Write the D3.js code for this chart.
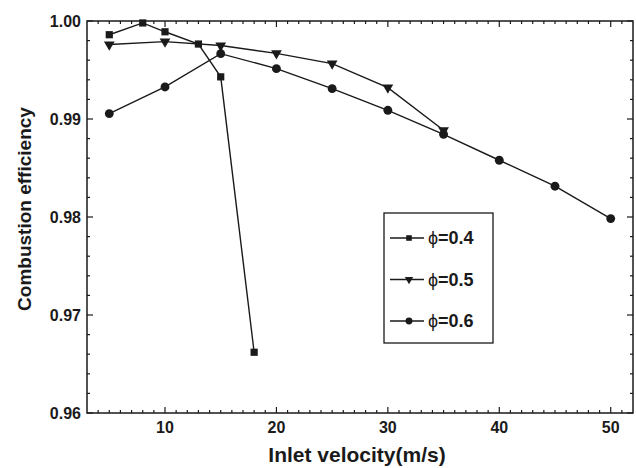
<!DOCTYPE html>
<html>
<head>
<meta charset="utf-8">
<script src="https://cdn.jsdelivr.net/npm/d3@7"></script>
<style>
    body { margin: 0; background: #fff; }
    svg { display: block; }
</style>
</head>
<body>
<div id="graph"></div>
<script>
document.addEventListener('DOMContentLoaded', init);

// data
let velocity04 = [5, 8, 10, 13, 15, 18];
let eff04 = [0.9986, 0.9998, 0.9989, 0.99765, 0.9943, 0.9662];

let velocity05 = [5, 10, 15, 20, 25, 30, 35];
let eff05 = [0.9976, 0.9979, 0.9975, 0.9967, 0.99565, 0.9932, 0.98885];

let velocity06 = [5, 10, 15, 20, 25, 30, 35, 40, 45, 50];
let eff06 = [0.99055, 0.99327, 0.99667, 0.99514, 0.9931, 0.99089, 0.98844, 0.98579, 0.98314, 0.97984];

let seriesNames = ["0.4", "0.5", "0.6"];
let xTicks = [10, 20, 30, 40, 50];
let yTicks = [0.96, 0.97, 0.98, 0.99, 1.00];

let svgWidth = 636;
let svgHeight = 468;
let plotLeft = 87, plotRight = 633, plotTop = 21, plotBottom = 413;
let lineColor = "#1a1a1a";
let font = "Arial, 'Liberation Sans', sans-serif";

let xScale = d3.scaleLinear().domain([3, 52]).range([plotLeft, plotRight]);
let yScale = d3.scaleLinear().domain([0.96, 1.00]).range([plotBottom, plotTop]);

function init() {
    let svg = d3.select("#graph")
        .append("svg")
        .attr("width", svgWidth)
        .attr("height", svgHeight);

    // minor ticks
    let xMinor = d3.range(4, 52, 1).filter(d => d % 10 != 0);
    let yMinor = d3.range(0, 21).map(i => 0.96 + i * 0.002).filter((d, i) => i % 5 != 0);

    let ticks = svg.append("g").attr("stroke", lineColor).attr("stroke-width", 1.2);

    // bottom / top
    xMinor.forEach(d => {
        ticks.append("line").attr("x1", xScale(d)).attr("x2", xScale(d)).attr("y1", plotBottom).attr("y2", plotBottom - 3);
        ticks.append("line").attr("x1", xScale(d)).attr("x2", xScale(d)).attr("y1", plotTop).attr("y2", plotTop + 3);
    });
    xTicks.forEach(d => {
        ticks.append("line").attr("x1", xScale(d)).attr("x2", xScale(d)).attr("y1", plotBottom).attr("y2", plotBottom - 6);
        ticks.append("line").attr("x1", xScale(d)).attr("x2", xScale(d)).attr("y1", plotTop).attr("y2", plotTop + 6);
    });
    // left / right
    yMinor.forEach(d => {
        ticks.append("line").attr("y1", yScale(d)).attr("y2", yScale(d)).attr("x1", plotLeft).attr("x2", plotLeft + 3);
        ticks.append("line").attr("y1", yScale(d)).attr("y2", yScale(d)).attr("x1", plotRight).attr("x2", plotRight - 3);
    });
    yTicks.forEach(d => {
        ticks.append("line").attr("y1", yScale(d)).attr("y2", yScale(d)).attr("x1", plotLeft).attr("x2", plotLeft + 6);
        ticks.append("line").attr("y1", yScale(d)).attr("y2", yScale(d)).attr("x1", plotRight).attr("x2", plotRight - 6);
    });

    // frame
    svg.append("rect")
        .attr("x", plotLeft).attr("y", plotTop)
        .attr("width", plotRight - plotLeft).attr("height", plotBottom - plotTop)
        .attr("fill", "none")
        .attr("stroke", lineColor)
        .attr("stroke-width", 1.5);

    // tick labels
    svg.selectAll(".xlab")
        .data(xTicks)
        .enter()
        .append("text")
        .attr("x", d => xScale(d))
        .attr("y", plotBottom + 20)
        .attr("text-anchor", "middle")
        .attr("font-family", font)
        .attr("font-weight", "bold")
        .attr("font-size", "16px")
        .attr("fill", lineColor)
        .text(d => d);

    svg.selectAll(".ylab")
        .data(yTicks)
        .enter()
        .append("text")
        .attr("x", plotLeft - 6)
        .attr("y", d => yScale(d) + 6)
        .attr("text-anchor", "end")
        .attr("font-family", font)
        .attr("font-weight", "bold")
        .attr("font-size", "16px")
        .attr("fill", lineColor)
        .text(d => d.toFixed(2));

    // axis titles
    svg.append("text")
        .attr("x", 357)
        .attr("y", 462)
        .attr("text-anchor", "middle")
        .attr("font-family", font)
        .attr("font-weight", "bold")
        .attr("font-size", "21px")
        .attr("fill", lineColor)
        .text("Inlet velocity(m/s)");

    svg.append("text")
        .attr("transform", "translate(31," + 209 + ") rotate(-90)")
        .attr("text-anchor", "middle")
        .attr("font-family", font)
        .attr("font-weight", "bold")
        .attr("font-size", "19px")
        .attr("fill", lineColor)
        .text("Combustion efficiency");

    let line = d3.line()
        .x(d => xScale(d[0]))
        .y(d => yScale(d[1]));

    let series = [
        { x: velocity04, y: eff04, sym: d3.symbolSquare, size: 52 },
        { x: velocity05, y: eff05, sym: d3.symbolTriangle, size: 50, rot: 180 },
        { x: velocity06, y: eff06, sym: d3.symbolCircle, size: 62 },
    ];

    series.forEach(s => {
        let pts = s.x.map((v, i) => [v, s.y[i]]);
        svg.append("path")
            .datum(pts)
            .attr("d", line)
            .attr("fill", "none")
            .attr("stroke", lineColor)
            .attr("stroke-width", 1.4);

        svg.append("g")
            .selectAll("path")
            .data(pts)
            .enter()
            .append("path")
            .attr("d", d3.symbol().type(s.sym).size(s.size))
            .attr("transform", d => "translate(" + xScale(d[0]) + "," + yScale(d[1]) + ")" + (s.rot ? " rotate(" + s.rot + ")" : ""))
            .attr("fill", lineColor);
    });

    // legend
    let legend = svg.append("g");
    legend.append("rect")
        .attr("x", 384).attr("y", 213)
        .attr("width", 109).attr("height", 130)
        .attr("fill", "#fff")
        .attr("stroke", lineColor)
        .attr("stroke-width", 1.3);

    seriesNames.forEach((name, i) => {
        let cy = 238 + i * 41.5;
        legend.append("line")
            .attr("x1", 390).attr("x2", 424)
            .attr("y1", cy).attr("y2", cy)
            .attr("stroke", lineColor)
            .attr("stroke-width", 1.4);
        legend.append("path")
            .attr("d", d3.symbol().type(series[i].sym).size(series[i].size * 0.6))
            .attr("transform", "translate(409," + cy + ")" + (series[i].rot ? " rotate(180)" : ""))
            .attr("fill", lineColor);
        let t = legend.append("text")
            .attr("x", 428)
            .attr("y", cy + 6)
            .attr("font-family", font)
            .attr("font-size", "18px")
            .attr("fill", lineColor);
        t.append("tspan").attr("font-weight", "normal").text("\u03D5");
        t.append("tspan").attr("font-weight", "bold").text("=" + name);
    });
}
</script>
</body>
</html>
